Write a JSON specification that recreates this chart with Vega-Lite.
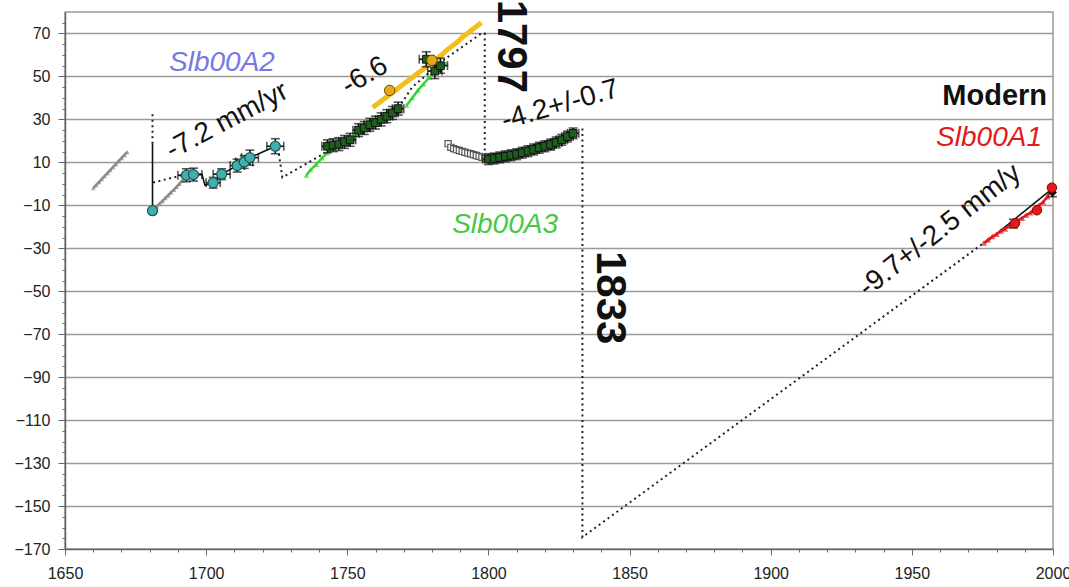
{
  "$schema": "https://vega.github.io/schema/vega-lite/v6.json",
  "width": 988,
  "height": 537,
  "autosize": {"type": "none"},
  "padding": {"left": 65, "top": 12, "right": 16, "bottom": 38},
  "background": "white",
  "config": {
    "font": "Liberation Sans",
    "view": {"stroke": "#9a9a9a", "strokeWidth": 1.5}
  },
  "datasets": {
    "gray": [
      {"g": "a", "yr": 1660, "v": -2}, {"g": "a", "yr": 1661, "v": -0.6}, {"g": "a", "yr": 1662, "v": 0.8},
      {"g": "a", "yr": 1663, "v": 2.2}, {"g": "a", "yr": 1664, "v": 3.6}, {"g": "a", "yr": 1665, "v": 5},
      {"g": "a", "yr": 1666, "v": 6.4}, {"g": "a", "yr": 1667, "v": 7.8}, {"g": "a", "yr": 1668, "v": 9.2},
      {"g": "a", "yr": 1669, "v": 10.6}, {"g": "a", "yr": 1670, "v": 12}, {"g": "a", "yr": 1671, "v": 13.4},
      {"g": "a", "yr": 1672, "v": 14.8},
      {"g": "b", "yr": 1681.5, "v": -11.8}, {"g": "b", "yr": 1682.5, "v": -10.6}, {"g": "b", "yr": 1683.5, "v": -9.2},
      {"g": "b", "yr": 1684.5, "v": -8}, {"g": "b", "yr": 1685.5, "v": -6.6}, {"g": "b", "yr": 1686.5, "v": -5.4},
      {"g": "b", "yr": 1687.5, "v": -4}, {"g": "b", "yr": 1688.5, "v": -2.8}, {"g": "b", "yr": 1689.5, "v": -1.4},
      {"g": "b", "yr": 1690.5, "v": 0}, {"g": "b", "yr": 1691.5, "v": 1.6}
    ],
    "dots": [
      {"g": "a", "i": 1, "yr": 1681, "v": 18.7}, {"g": "a", "i": 2, "yr": 1681, "v": 34},
      {"g": "b", "i": 1, "yr": 1681.2, "v": 0.6}, {"g": "b", "i": 2, "yr": 1693, "v": 4.5},
      {"g": "c", "i": 1, "yr": 1725.5, "v": 16.5}, {"g": "c", "i": 2, "yr": 1727, "v": 3},
      {"g": "c", "i": 3, "yr": 1741, "v": 13.5}, {"g": "c", "i": 4, "yr": 1752, "v": 20},
      {"g": "c", "i": 5, "yr": 1762, "v": 29}, {"g": "c", "i": 6, "yr": 1768, "v": 35},
      {"g": "c", "i": 7, "yr": 1773, "v": 45}, {"g": "c", "i": 8, "yr": 1785, "v": 58.5},
      {"g": "c", "i": 9, "yr": 1797.5, "v": 70}, {"g": "c", "i": 10, "yr": 1798.7, "v": 70},
      {"g": "c", "i": 11, "yr": 1798.7, "v": 12},
      {"g": "d", "i": 1, "yr": 1833.3, "v": 25.8}, {"g": "d", "i": 2, "yr": 1833.3, "v": -164.5},
      {"g": "d", "i": 3, "yr": 1975.3, "v": -27.7}
    ],
    "solid": [
      {"g": "v", "i": 1, "yr": 1681, "v": -12.5}, {"g": "v", "i": 2, "yr": 1681, "v": 18.7},
      {"g": "a2", "i": 1, "yr": 1692.5, "v": 4}, {"g": "a2", "i": 2, "yr": 1698.5, "v": 4.5},
      {"g": "a2", "i": 3, "yr": 1699.6, "v": -0.7}, {"g": "a2", "i": 4, "yr": 1702.5, "v": 0.6},
      {"g": "a2", "i": 5, "yr": 1705.5, "v": 4.5}, {"g": "a2", "i": 6, "yr": 1711, "v": 8.5},
      {"g": "a2", "i": 7, "yr": 1713.5, "v": 10.2}, {"g": "a2", "i": 8, "yr": 1715.5, "v": 12.2},
      {"g": "a2", "i": 9, "yr": 1724.5, "v": 17.5},
      {"g": "a1", "i": 1, "yr": 1976, "v": -27.5}, {"g": "a1", "i": 2, "yr": 2000, "v": -2}
    ],
    "cyan": [
      {"yr": 1693, "v": 4.0, "ey": 3, "ex": 3}, {"yr": 1695.5, "v": 4.3, "ey": 3, "ex": 3},
      {"yr": 1702.5, "v": 0.5, "ey": 2.5, "ex": 2.5}, {"yr": 1705.5, "v": 4.5, "ey": 2.5, "ex": 3},
      {"yr": 1711, "v": 8.5, "ey": 3, "ex": 2.5}, {"yr": 1713.5, "v": 10.2, "ey": 3, "ex": 3},
      {"yr": 1715.5, "v": 12.2, "ey": 3.5, "ex": 3}, {"yr": 1724.5, "v": 17.5, "ey": 3.5, "ex": 3}
    ],
    "cyanpts": [
      {"yr": 1681, "v": -12.5}, {"yr": 1693, "v": 4.0}, {"yr": 1695.5, "v": 4.3}, {"yr": 1702.5, "v": 0.5},
      {"yr": 1705.5, "v": 4.5}, {"yr": 1711, "v": 8.5}, {"yr": 1713.5, "v": 10.2},
      {"yr": 1715.5, "v": 12.2}, {"yr": 1724.5, "v": 17.5}
    ],
    "green": [
      {"g": "a", "yr": 1735.5, "v": 4}, {"g": "a", "yr": 1737, "v": 6.5}, {"g": "a", "yr": 1739, "v": 9},
      {"g": "a", "yr": 1741, "v": 12}, {"g": "a", "yr": 1743, "v": 14.5}, {"g": "a", "yr": 1745, "v": 16.5},
      {"g": "a", "yr": 1747, "v": 18}, {"g": "a", "yr": 1749, "v": 19.5}, {"g": "a", "yr": 1751, "v": 21},
      {"g": "a", "yr": 1753, "v": 23}, {"g": "a", "yr": 1755, "v": 24.5}, {"g": "a", "yr": 1757, "v": 26},
      {"g": "a", "yr": 1759, "v": 27.5}, {"g": "a", "yr": 1761, "v": 29}, {"g": "a", "yr": 1763, "v": 30},
      {"g": "a", "yr": 1765, "v": 31.5}, {"g": "a", "yr": 1767, "v": 32.5}, {"g": "a", "yr": 1769, "v": 33.5},
      {"g": "b", "yr": 1771, "v": 36.5}, {"g": "b", "yr": 1773, "v": 40}, {"g": "b", "yr": 1775, "v": 43.5},
      {"g": "b", "yr": 1777, "v": 46.5}, {"g": "b", "yr": 1779, "v": 49.5}, {"g": "b", "yr": 1781, "v": 52},
      {"g": "b", "yr": 1783, "v": 54}, {"g": "b", "yr": 1785, "v": 56},
      {"g": "c", "yr": 1816, "v": 17.5}, {"g": "c", "yr": 1818.3, "v": 18.8}, {"g": "c", "yr": 1820.7, "v": 19.3},
      {"g": "c", "yr": 1822.9, "v": 16.5}, {"g": "c", "yr": 1824.6, "v": 18.8}, {"g": "c", "yr": 1827, "v": 20.2},
      {"g": "c", "yr": 1828.9, "v": 23.5}, {"g": "c", "yr": 1830.7, "v": 25}
    ],
    "dgreen": [
      {"yr": 1743, "v": 17.5, "ey": 3, "ex": 2}, {"yr": 1745, "v": 18, "ey": 3, "ex": 2},
      {"yr": 1747, "v": 18.5, "ey": 3, "ex": 2}, {"yr": 1749, "v": 19.5, "ey": 3, "ex": 2},
      {"yr": 1751, "v": 20.5, "ey": 3, "ex": 2},
      {"yr": 1754, "v": 25, "ey": 3, "ex": 2}, {"yr": 1756, "v": 26, "ey": 3, "ex": 2},
      {"yr": 1758, "v": 27.5, "ey": 3, "ex": 2}, {"yr": 1760, "v": 28.5, "ey": 3, "ex": 2},
      {"yr": 1762, "v": 30, "ey": 3, "ex": 2}, {"yr": 1764, "v": 31.5, "ey": 3, "ex": 2},
      {"yr": 1766, "v": 33, "ey": 3, "ex": 2}, {"yr": 1768, "v": 35, "ey": 3, "ex": 2},
      {"yr": 1778, "v": 58, "ey": 3.5, "ex": 2.5}, {"yr": 1781, "v": 52.5, "ey": 3.5, "ex": 2.5},
      {"yr": 1783, "v": 55, "ey": 3.5, "ex": 2.5},
      {"yr": 1800, "v": 11.5, "ey": 2.5, "ex": 2}, {"yr": 1802, "v": 11.8, "ey": 2.5, "ex": 2},
      {"yr": 1804, "v": 12.3, "ey": 2.5, "ex": 2}, {"yr": 1806, "v": 12.8, "ey": 2.5, "ex": 2},
      {"yr": 1808, "v": 13.3, "ey": 2.5, "ex": 2}, {"yr": 1810, "v": 13.8, "ey": 2.5, "ex": 2},
      {"yr": 1812, "v": 14.5, "ey": 2.5, "ex": 2}, {"yr": 1814, "v": 15.2, "ey": 2.5, "ex": 2},
      {"yr": 1816, "v": 16, "ey": 2.5, "ex": 2}, {"yr": 1818, "v": 16.8, "ey": 2.5, "ex": 2},
      {"yr": 1820, "v": 17.5, "ey": 2.5, "ex": 2}, {"yr": 1822, "v": 18.3, "ey": 2.5, "ex": 2},
      {"yr": 1824, "v": 19.3, "ey": 2.5, "ex": 2}, {"yr": 1826, "v": 20.5, "ey": 2.5, "ex": 2},
      {"yr": 1828, "v": 22, "ey": 2.5, "ex": 2}, {"yr": 1830, "v": 23.5, "ey": 2.5, "ex": 2}
    ],
    "hollow": [
      {"yr": 1785.7, "v": 18.7}, {"yr": 1786.7, "v": 17}, {"yr": 1787.7, "v": 16.4}, {"yr": 1788.7, "v": 15.9},
      {"yr": 1789.7, "v": 15.5}, {"yr": 1790.7, "v": 15.1}, {"yr": 1791.7, "v": 14.7}, {"yr": 1792.7, "v": 14.3},
      {"yr": 1793.7, "v": 14}, {"yr": 1794.7, "v": 13.6}, {"yr": 1795.7, "v": 13.2}, {"yr": 1796.7, "v": 12.8},
      {"yr": 1797.7, "v": 12.4}, {"yr": 1798.7, "v": 12}, {"yr": 1799.7, "v": 11.6}
    ],
    "yellow": [
      {"yr": 1759, "v": 35.5}, {"yr": 1761, "v": 37.5}, {"yr": 1763, "v": 39.5}, {"yr": 1765, "v": 41.5},
      {"yr": 1767, "v": 43.5}, {"yr": 1769, "v": 45.5}, {"yr": 1771, "v": 47.5}, {"yr": 1773, "v": 49.5},
      {"yr": 1775, "v": 51.5}, {"yr": 1777, "v": 53.5}, {"yr": 1779, "v": 55.5}, {"yr": 1781, "v": 57.5},
      {"yr": 1783, "v": 59.5}, {"yr": 1785, "v": 62}, {"yr": 1787, "v": 64}, {"yr": 1789, "v": 66},
      {"yr": 1791, "v": 68.5}, {"yr": 1793, "v": 70.5}, {"yr": 1795, "v": 72.5}, {"yr": 1797.5, "v": 75}
    ],
    "yelpts": [{"yr": 1765, "v": 43.5}, {"yr": 1780, "v": 57.5}],
    "red": [
      {"yr": 1975.5, "v": -27.5}, {"yr": 1977, "v": -26}, {"yr": 1978.5, "v": -24.5}, {"yr": 1980, "v": -23.5},
      {"yr": 1981.5, "v": -22}, {"yr": 1983, "v": -21}, {"yr": 1984.5, "v": -19.5}, {"yr": 1986, "v": -18.5},
      {"yr": 1987.5, "v": -17}, {"yr": 1989, "v": -16}, {"yr": 1990.5, "v": -14.5}, {"yr": 1992, "v": -13.5},
      {"yr": 1993.5, "v": -12}, {"yr": 1995, "v": -10}, {"yr": 1996.5, "v": -8.5}, {"yr": 1998, "v": -6},
      {"yr": 1999, "v": -3.5}, {"yr": 2000, "v": -1.5}
    ],
    "redpts": [{"yr": 1986.5, "v": -18.4}, {"yr": 1994.3, "v": -12.3}, {"yr": 1999.6, "v": -1.8}],
    "blkpts": [{"yr": 1986, "v": -18.5, "ey": 2}, {"yr": 1999.8, "v": -4, "ey": 2}]
  },
  "encoding": {
    "x": {
      "field": "yr", "type": "quantitative",
      "scale": {"domain": [1650, 2000], "nice": false, "zero": false},
      "axis": {
        "title": null, "grid": false,
        "values": [1650,1660,1670,1680,1690,1700,1710,1720,1730,1740,1750,1760,1770,1780,1790,1800,1810,1820,1830,1840,1850,1860,1870,1880,1890,1900,1910,1920,1930,1940,1950,1960,1970,1980,1990,2000],
        "labelExpr": "datum.value % 50 === 0 ? datum.label : ''",
        "format": "d",
        "labelFontSize": 16, "labelColor": "#222", "labelPadding": 10,
        "labelOverlap": false, "labelBound": false, "labelFlush": false,
        "domainColor": "#666", "domainWidth": 1.5,
        "tickColor": "#666",
        "tickSize": {"condition": {"test": "datum.value % 50 === 0", "value": 6}, "value": 3}
      }
    },
    "y": {
      "field": "v", "type": "quantitative",
      "scale": {"domain": [-170, 80], "nice": false, "zero": false},
      "axis": {
        "title": null,
        "values": [-170,-165,-160,-155,-150,-145,-140,-135,-130,-125,-120,-115,-110,-105,-100,-95,-90,-85,-80,-75,-70,-65,-60,-55,-50,-45,-40,-35,-30,-25,-20,-15,-10,-5,0,5,10,15,20,25,30,35,40,45,50,55,60,65,70,75],
        "labelExpr": "(datum.value - 70) % 20 === 0 ? datum.label : ''",
        "labelFontSize": 16, "labelColor": "#222", "labelPadding": 8,
        "labelOverlap": false, "labelBound": false, "labelFlush": false,
        "domainColor": "#666", "domainWidth": 1.5,
        "tickColor": "#666",
        "tickSize": {"condition": {"test": "(datum.value - 70) % 20 === 0", "value": 7}, "value": 3},
        "grid": true,
        "gridColor": "#9a9a9a", "gridWidth": 1.5,
        "gridOpacity": {"condition": {"test": "(datum.value - 70) % 20 === 0 && datum.value > -170", "value": 1}, "value": 0}
      }
    }
  },
  "layer": [
    {
      "data": {"name": "gray"},
      "mark": {"type": "line", "color": "#8c8c8c", "strokeWidth": 2.5},
      "encoding": {"detail": {"field": "g"}}
    },
    {
      "data": {"name": "gray"},
      "mark": {"type": "point", "shape": "triangle-up", "filled": true, "color": "#8c8c8c", "size": 26}
    },
    {
      "data": {"name": "dots"},
      "mark": {"type": "line", "color": "#222", "strokeWidth": 2, "strokeDash": [2, 3.5]},
      "encoding": {"detail": {"field": "g"}, "order": {"field": "i"}}
    },
    {
      "data": {"name": "yellow"},
      "mark": {"type": "line", "color": "#F2BE1C", "strokeWidth": 5}
    },
    {
      "data": {"name": "green"},
      "mark": {"type": "line", "color": "#33D633", "strokeWidth": 2.5},
      "encoding": {"detail": {"field": "g"}}
    },
    {
      "data": {"name": "green"},
      "mark": {"type": "point", "shape": "triangle-up", "filled": true, "color": "#33D633", "size": 32}
    },
    {
      "data": {"name": "hollow"},
      "mark": {"type": "line", "color": "#555", "strokeWidth": 1}
    },
    {
      "data": {"name": "hollow"},
      "mark": {"type": "point", "shape": "square", "filled": true, "fill": "white", "stroke": "#555", "strokeWidth": 1.2, "size": 38, "opacity": 1}
    },
    {
      "data": {"name": "dgreen"},
      "mark": {"type": "errorbar", "ticks": {"size": 9}, "color": "#111", "thickness": 1.6},
      "encoding": {"yError": {"field": "ey"}}
    },
    {
      "data": {"name": "dgreen"},
      "mark": {"type": "errorbar", "ticks": {"size": 9}, "color": "#111", "thickness": 1.6},
      "encoding": {"xError": {"field": "ex"}}
    },
    {
      "data": {"name": "dgreen"},
      "mark": {"type": "point", "shape": "square", "filled": true, "fill": "#1d5e1d", "stroke": "#111", "strokeWidth": 1, "size": 60, "opacity": 1}
    },
    {
      "data": {"name": "yelpts"},
      "mark": {"type": "point", "shape": "circle", "filled": true, "fill": "#E6A817", "stroke": "#6b4a00", "strokeWidth": 1, "size": 110, "opacity": 1}
    },
    {
      "data": {"name": "solid"},
      "mark": {"type": "line", "color": "#111", "strokeWidth": 1.6},
      "encoding": {"detail": {"field": "g"}, "order": {"field": "i"}}
    },
    {
      "data": {"name": "cyan"},
      "mark": {"type": "errorbar", "ticks": {"size": 9}, "color": "#111", "thickness": 1.6},
      "encoding": {"yError": {"field": "ey"}}
    },
    {
      "data": {"name": "cyan"},
      "mark": {"type": "errorbar", "ticks": {"size": 9}, "color": "#111", "thickness": 1.6},
      "encoding": {"xError": {"field": "ex"}}
    },
    {
      "data": {"name": "cyanpts"},
      "mark": {"type": "point", "shape": "circle", "filled": true, "fill": "#3FAFAF", "stroke": "#1d5555", "strokeWidth": 1.2, "size": 100, "opacity": 1}
    },
    {
      "data": {"name": "red"},
      "mark": {"type": "line", "color": "#E31A1C", "strokeWidth": 2.5}
    },
    {
      "data": {"name": "red"},
      "mark": {"type": "point", "shape": "triangle-up", "filled": true, "color": "#E31A1C", "size": 40}
    },
    {
      "data": {"name": "blkpts"},
      "mark": {"type": "errorbar", "ticks": {"size": 9}, "color": "#111", "thickness": 1.6},
      "encoding": {"yError": {"field": "ey"}}
    },
    {
      "data": {"name": "blkpts"},
      "mark": {"type": "point", "shape": "diamond", "filled": true, "color": "#111", "size": 80, "opacity": 1}
    },
    {
      "data": {"name": "redpts"},
      "mark": {"type": "point", "shape": "circle", "filled": true, "fill": "#E31A1C", "stroke": "#8a0000", "strokeWidth": 1, "size": 90, "opacity": 1}
    },
    {
      "data": {"values": [{"yr": 1705.6, "v": 52.3, "t": "Slb00A2"}]},
      "mark": {"type": "text", "fontSize": 28, "fontStyle": "italic", "color": "#7777E6", "align": "center", "baseline": "alphabetic"},
      "encoding": {"text": {"field": "t"}}
    },
    {
      "data": {"values": [{"yr": 1708.8, "v": 26, "t": "-7.2 mm/yr"}]},
      "mark": {"type": "text", "fontSize": 28, "color": "#111", "align": "center", "baseline": "alphabetic", "angle": 332},
      "encoding": {"text": {"field": "t"}}
    },
    {
      "data": {"values": [{"yr": 1757.7, "v": 47, "t": "-6.6"}]},
      "mark": {"type": "text", "fontSize": 28, "color": "#111", "align": "center", "baseline": "alphabetic", "angle": 329},
      "encoding": {"text": {"field": "t"}}
    },
    {
      "data": {"values": [{"yr": 1803.4, "v": 64, "t": "1797"}]},
      "mark": {"type": "text", "fontSize": 42, "fontWeight": "bold", "color": "#111", "align": "center", "baseline": "alphabetic", "angle": 90},
      "encoding": {"text": {"field": "t"}}
    },
    {
      "data": {"values": [{"yr": 1826.2, "v": 33, "t": "-4.2+/-0.7"}]},
      "mark": {"type": "text", "fontSize": 28, "color": "#111", "align": "center", "baseline": "alphabetic", "angle": 344},
      "encoding": {"text": {"field": "t"}}
    },
    {
      "data": {"values": [{"yr": 1805.9, "v": -23, "t": "Slb00A3"}]},
      "mark": {"type": "text", "fontSize": 28, "fontStyle": "italic", "color": "#44C944", "align": "center", "baseline": "alphabetic"},
      "encoding": {"text": {"field": "t"}}
    },
    {
      "data": {"values": [{"yr": 1838.5, "v": -53, "t": "1833"}]},
      "mark": {"type": "text", "fontSize": 42, "fontWeight": "bold", "color": "#111", "align": "center", "baseline": "alphabetic", "angle": 90},
      "encoding": {"text": {"field": "t"}}
    },
    {
      "data": {"values": [{"yr": 1997.9, "v": 36.5, "t": "Modern"}]},
      "mark": {"type": "text", "fontSize": 29, "fontWeight": "bold", "color": "#111", "align": "right", "baseline": "alphabetic"},
      "encoding": {"text": {"field": "t"}}
    },
    {
      "data": {"values": [{"yr": 1996.1, "v": 17.4, "t": "Slb00A1"}]},
      "mark": {"type": "text", "fontSize": 28, "fontStyle": "italic", "color": "#E31A1C", "align": "right", "baseline": "alphabetic"},
      "encoding": {"text": {"field": "t"}}
    },
    {
      "data": {"values": [{"yr": 1961.7, "v": -24.7, "t": "-9.7+/-2.5 mm/y"}]},
      "mark": {"type": "text", "fontSize": 28, "color": "#111", "align": "center", "baseline": "alphabetic", "angle": 322},
      "encoding": {"text": {"field": "t"}}
    }
  ]
}
